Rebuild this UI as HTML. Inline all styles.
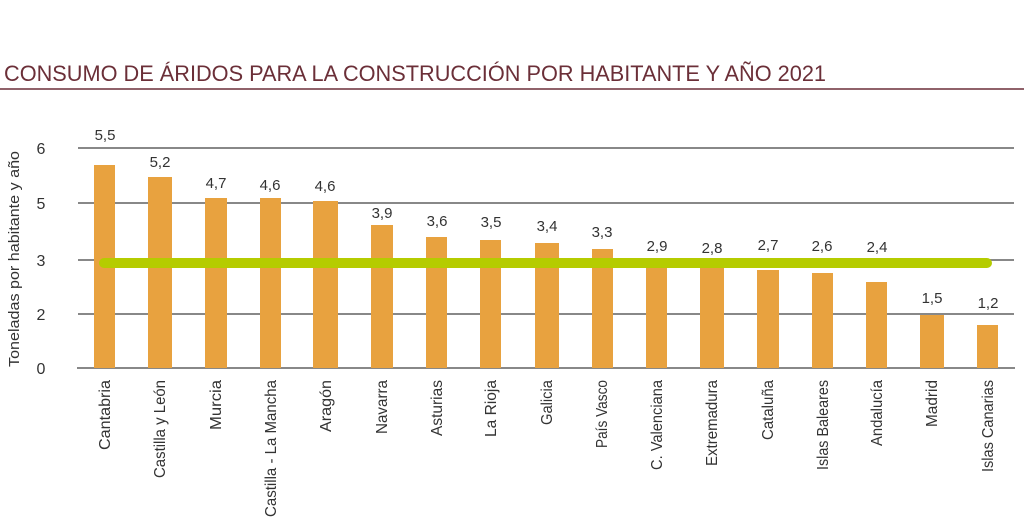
<!DOCTYPE html>
<html><head><meta charset="utf-8"><style>body{margin:0;background:#fff}svg{display:block}</style></head><body>
<svg width="1024" height="520" viewBox="0 0 1024 520" xmlns="http://www.w3.org/2000/svg" font-family="Liberation Sans, sans-serif">
<text x="4" y="81" font-size="22" fill="#6b2f38" textLength="822" lengthAdjust="spacingAndGlyphs">CONSUMO DE ÁRIDOS PARA LA CONSTRUCCIÓN POR HABITANTE Y AÑO 2021</text>
<line x1="0" y1="89" x2="1024" y2="89" stroke="#6b2f38" stroke-width="1.5"/>
<g stroke="#888" stroke-width="2">
<line x1="78" y1="148" x2="1014" y2="148"/><line x1="78" y1="203" x2="1014" y2="203"/>
<line x1="78" y1="260" x2="1014" y2="260"/><line x1="78" y1="314" x2="1014" y2="314"/>
<line x1="77" y1="368" x2="1015" y2="368"/></g>
<g font-size="16" fill="#333" text-anchor="middle">
<text x="41" y="154">6</text><text x="41" y="209">5</text><text x="41" y="266">3</text><text x="41" y="320">2</text><text x="41" y="374">0</text></g>
<text transform="translate(19,259) rotate(-90)" font-size="15" fill="#333" text-anchor="middle" textLength="216" lengthAdjust="spacingAndGlyphs">Toneladas por habitante y año</text>
<g fill="#e8a23f">
<rect x="94" y="165" width="21" height="203"/><rect x="148" y="177" width="24" height="191"/>
<rect x="205" y="198" width="22" height="170"/><rect x="260" y="198" width="21" height="170"/>
<rect x="313" y="201" width="25" height="167"/><rect x="371" y="225" width="22" height="143"/>
<rect x="426" y="237" width="21" height="131"/><rect x="480" y="240" width="21" height="128"/>
<rect x="535" y="243" width="24" height="125"/><rect x="592" y="249" width="21" height="119"/>
<rect x="646" y="262" width="21" height="106"/><rect x="700" y="263" width="24" height="105"/>
<rect x="757" y="270" width="22" height="98"/><rect x="812" y="273" width="21" height="95"/>
<rect x="866" y="282" width="21" height="86"/><rect x="920" y="315" width="24" height="53"/>
<rect x="977" y="325" width="21" height="43"/></g>
<line x1="104" y1="263" x2="987" y2="263" stroke="#b5cc00" stroke-width="10" stroke-linecap="round"/>
<g font-size="15" fill="#333" text-anchor="middle">
<text x="105" y="140">5,5</text><text x="160" y="167">5,2</text><text x="216" y="188">4,7</text>
<text x="270" y="190">4,6</text><text x="325" y="191">4,6</text><text x="382" y="218">3,9</text>
<text x="437" y="226">3,6</text><text x="491" y="227">3,5</text><text x="547" y="231">3,4</text>
<text x="602" y="237">3,3</text><text x="657" y="251">2,9</text><text x="712" y="253">2,8</text>
<text x="768" y="250">2,7</text><text x="822" y="251">2,6</text><text x="877" y="252">2,4</text>
<text x="932" y="303">1,5</text><text x="988" y="308">1,2</text></g>
<g font-size="16" fill="#333" text-anchor="end">
<text transform="translate(110,380) rotate(-90)" textLength="70" lengthAdjust="spacingAndGlyphs">Cantabria</text>
<text transform="translate(165,380) rotate(-90)" textLength="98" lengthAdjust="spacingAndGlyphs">Castilla y León</text>
<text transform="translate(221,380) rotate(-90)" textLength="50" lengthAdjust="spacingAndGlyphs">Murcia</text>
<text transform="translate(276,380) rotate(-90)" textLength="137" lengthAdjust="spacingAndGlyphs">Castilla - La Mancha</text>
<text transform="translate(331,380) rotate(-90)" textLength="52" lengthAdjust="spacingAndGlyphs">Aragón</text>
<text transform="translate(387,380) rotate(-90)" textLength="54" lengthAdjust="spacingAndGlyphs">Navarra</text>
<text transform="translate(442,380) rotate(-90)" textLength="56" lengthAdjust="spacingAndGlyphs">Asturias</text>
<text transform="translate(496,380) rotate(-90)" textLength="57" lengthAdjust="spacingAndGlyphs">La Rioja</text>
<text transform="translate(552,380) rotate(-90)" textLength="45" lengthAdjust="spacingAndGlyphs">Galicia</text>
<text transform="translate(607,380) rotate(-90)" textLength="68" lengthAdjust="spacingAndGlyphs">País Vasco</text>
<text transform="translate(662,380) rotate(-90)" textLength="90" lengthAdjust="spacingAndGlyphs">C. Valenciana</text>
<text transform="translate(717,380) rotate(-90)" textLength="86" lengthAdjust="spacingAndGlyphs">Extremadura</text>
<text transform="translate(773,380) rotate(-90)" textLength="60" lengthAdjust="spacingAndGlyphs">Cataluña</text>
<text transform="translate(828,380) rotate(-90)" textLength="90" lengthAdjust="spacingAndGlyphs">Islas Baleares</text>
<text transform="translate(882,380) rotate(-90)" textLength="66" lengthAdjust="spacingAndGlyphs">Andalucía</text>
<text transform="translate(937,380) rotate(-90)" textLength="47" lengthAdjust="spacingAndGlyphs">Madrid</text>
<text transform="translate(993,380) rotate(-90)" textLength="92" lengthAdjust="spacingAndGlyphs">Islas Canarias</text>
</g>
</svg>
</body></html>
